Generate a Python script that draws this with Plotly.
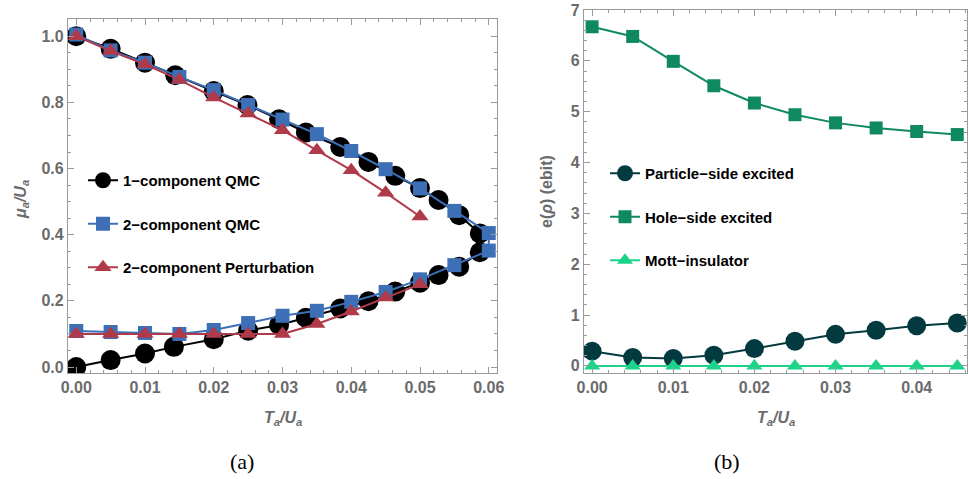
import plotly.graph_objects as go

# ---------------- data: panel (a) ----------------
t_qmc1_upper = [0, 0.005, 0.01, 0.0144, 0.02, 0.0249, 0.0295, 0.0334, 0.0384, 0.0425, 0.0464, 0.05, 0.0527, 0.0557, 0.0587]
mu_qmc1_upper = [1.0, 0.962, 0.920, 0.882, 0.834, 0.792, 0.749, 0.709, 0.665, 0.620, 0.578, 0.541, 0.505, 0.459, 0.404]
t_qmc1_lower = [0, 0.005, 0.01, 0.0142, 0.02, 0.025, 0.0295, 0.0334, 0.0384, 0.0425, 0.0464, 0.05, 0.0527, 0.0557, 0.0587]
mu_qmc1_lower = [0.0, 0.021, 0.041, 0.061, 0.084, 0.110, 0.127, 0.149, 0.177, 0.199, 0.228, 0.255, 0.278, 0.303, 0.347]

t_qmc2 = [0, 0.005, 0.01, 0.015, 0.02, 0.025, 0.03, 0.035, 0.04, 0.045, 0.05, 0.055, 0.06]
mu_qmc2_upper = [1.005, 0.957, 0.920, 0.877, 0.837, 0.792, 0.748, 0.704, 0.653, 0.598, 0.540, 0.472, 0.405]
mu_qmc2_lower = [0.109, 0.106, 0.103, 0.100, 0.112, 0.133, 0.155, 0.170, 0.197, 0.227, 0.265, 0.308, 0.352]

t_pert = [0, 0.005, 0.01, 0.015, 0.02, 0.025, 0.03, 0.035, 0.04, 0.045, 0.05]
mu_pert_upper = [1.0, 0.955, 0.915, 0.868, 0.815, 0.766, 0.716, 0.655, 0.595, 0.527, 0.455]
mu_pert_lower = [0.1, 0.1, 0.1, 0.1, 0.1, 0.1, 0.1, 0.13, 0.168, 0.21, 0.25]

names_a = ["1\u2212component QMC", "2\u2212component QMC", "2\u2212component Perturbation"]

# ---------------- data: panel (b) ----------------
t_b = [0, 0.005, 0.01, 0.015, 0.02, 0.025, 0.03, 0.035, 0.04, 0.045]
e_particle = [0.29, 0.165, 0.145, 0.21, 0.34, 0.485, 0.62, 0.70, 0.79, 0.845]
e_hole = [6.67, 6.48, 5.99, 5.51, 5.17, 4.94, 4.78, 4.68, 4.61, 4.55]
e_mott = [0, 0, 0, 0, 0, 0, 0, 0, 0, 0]
names_b = ["Particle\u2212side excited", "Hole\u2212side excited", "Mott\u2212insulator"]

x_ticks_a = [0.0, 0.01, 0.02, 0.03, 0.04, 0.05, 0.06]
x_labels_a = ["0.00", "0.01", "0.02", "0.03", "0.04", "0.05", "0.06"]
y_ticks_a = [0.0, 0.2, 0.4, 0.6, 0.8, 1.0]
y_labels_a = ["0.0", "0.2", "0.4", "0.6", "0.8", "1.0"]
x_ticks_b = [0.0, 0.01, 0.02, 0.03, 0.04]
x_labels_b = ["0.00", "0.01", "0.02", "0.03", "0.04"]
y_ticks_b = [0, 1, 2, 3, 4, 5, 6, 7]
y_labels_b = ["0", "1", "2", "3", "4", "5", "6", "7"]

BLACK = "#000000"
BLUE = "#3d6fb6"
RED = "#b03a4a"
DARK = "#023a3f"
GREEN = "#0f8a5f"
LIGHT = "#1dd38a"
FRAME = "#9a9a9a"
TICKFONT = "#6b6b6b"
SANS = "Arial, 'Liberation Sans', sans-serif"

fig = go.Figure()

# closed loop traces (upper branch then lower branch reversed)
fig.add_trace(go.Scatter(
    x=t_qmc1_upper + t_qmc1_lower[::-1], y=mu_qmc1_upper + mu_qmc1_lower[::-1],
    mode="lines+markers", name=names_a[0], legendgroup="a1",
    line=dict(color=BLACK, width=2), marker=dict(symbol="circle", size=20, color=BLACK),
    xaxis="x", yaxis="y", legend="legend"))
fig.add_trace(go.Scatter(
    x=t_qmc2 + t_qmc2[::-1], y=mu_qmc2_upper + mu_qmc2_lower[::-1],
    mode="lines+markers", name=names_a[1], legendgroup="a2",
    line=dict(color=BLUE, width=2), marker=dict(symbol="square", size=14, color=BLUE),
    xaxis="x", yaxis="y", legend="legend"))
fig.add_trace(go.Scatter(
    x=t_pert + [None] + t_pert, y=mu_pert_upper + [None] + mu_pert_lower,
    mode="lines+markers", name=names_a[2], legendgroup="a3", connectgaps=False,
    line=dict(color=RED, width=2), marker=dict(symbol="triangle-up", size=15, color=RED),
    xaxis="x", yaxis="y", legend="legend"))

fig.add_trace(go.Scatter(
    x=t_b, y=e_particle, mode="lines+markers", name=names_b[0], legendgroup="b1",
    line=dict(color=DARK, width=2), marker=dict(symbol="circle", size=19, color=DARK),
    xaxis="x2", yaxis="y2", legend="legend2"))
fig.add_trace(go.Scatter(
    x=t_b, y=e_hole, mode="lines+markers", name=names_b[1], legendgroup="b2",
    line=dict(color=GREEN, width=2), marker=dict(symbol="square", size=13, color=GREEN),
    xaxis="x2", yaxis="y2", legend="legend2"))
fig.add_trace(go.Scatter(
    x=t_b, y=e_mott, mode="lines+markers", name=names_b[2], legendgroup="b3",
    line=dict(color=LIGHT, width=2), marker=dict(symbol="triangle-up", size=14, color=LIGHT),
    xaxis="x2", yaxis="y2", legend="legend2"))

tickfont = dict(family=SANS, size=16, color=TICKFONT, weight="bold")

def bold(labels):
    return ["<b>" + s + "</b>" for s in labels]

def axis_common(**kw):
    d = dict(showline=True, linecolor=FRAME, linewidth=1.2, mirror="allticks",
             ticks="inside", ticklen=6, tickcolor=FRAME, tickwidth=1, automargin=False,
             showgrid=False, zeroline=False, tickfont=tickfont)
    d.update(kw)
    return d

W, H = 968, 479
fig.update_layout(
    width=W, height=H, margin=dict(l=0, r=0, t=0, b=0, pad=0, autoexpand=False),
    paper_bgcolor="white", plot_bgcolor="white",
    font=dict(family=SANS),
    xaxis=axis_common(domain=[68 / W, 497 / W], range=[-0.0012, 0.0612],
                      tickvals=x_ticks_a, ticktext=bold(x_labels_a), anchor="y",
                      minor=dict(dtick=0.002, ticklen=3, tickcolor=FRAME, ticks="inside")),
    yaxis=axis_common(domain=[1 - 373 / H, 1 - 19 / H], range=[-0.018, 1.052],
                      tickvals=y_ticks_a, ticktext=bold(y_labels_a), anchor="x",
                      minor=dict(dtick=0.05, ticklen=3, tickcolor=FRAME, ticks="inside")),
    xaxis2=axis_common(domain=[584 / W, 967 / W], range=[-0.001, 0.0462],
                       tickvals=x_ticks_b, ticktext=bold(x_labels_b), anchor="y2",
                       minor=dict(dtick=0.002, ticklen=3, tickcolor=FRAME, ticks="inside")),
    yaxis2=axis_common(domain=[1 - 373 / H, 1 - 10 / H], range=[-0.14, 7.0],
                       tickvals=y_ticks_b, ticktext=bold(y_labels_b), anchor="x2",
                       minor=dict(dtick=0.2, ticklen=3, tickcolor=FRAME, ticks="inside")),
    legend=dict(x=83 / W, y=1 - 164 / H, xanchor="left", yanchor="top",
                bgcolor="rgba(0,0,0,0)", tracegroupgap=21, itemwidth=30,
                font=dict(family=SANS, size=15, color="black", weight="bold")),
    legend2=dict(x=605 / W, y=1 - 157 / H, xanchor="left", yanchor="top",
                 bgcolor="rgba(0,0,0,0)", tracegroupgap=21, itemwidth=30,
                 font=dict(family=SANS, size=15, color="black", weight="bold")),
)

title_font = dict(family=SANS, size=16, color=TICKFONT, weight="bold")
serif = dict(family="'Liberation Serif', 'Times New Roman', serif", size=22, color="black")

def ann(text, x, y, font, angle=0):
    return dict(text=text, x=x / W, y=1 - y / H, xref="paper", yref="paper",
                xanchor="center", yanchor="middle", showarrow=False,
                textangle=angle, font=font)

annotations = [
    ann("<b><i>T<sub>a</sub>/U<sub>a</sub></i></b>", 283, 418, title_font),
    ann("<b><i>T<sub>a</sub>/U<sub>a</sub></i></b>", 776, 418, title_font),
    ann("<b><i>\u03bc<sub>a</sub>/U<sub>a</sub></i></b>", 21, 200, title_font, -90),
    ann("<b>e(<i>\u03c1</i>) (ebit)</b>", 546, 192, title_font, -90),
    ann("(a)", 242, 461, serif),
    ann("(b)", 727, 461, serif),
]
fig.update_layout(annotations=annotations)

fig.write_html("out.html")
